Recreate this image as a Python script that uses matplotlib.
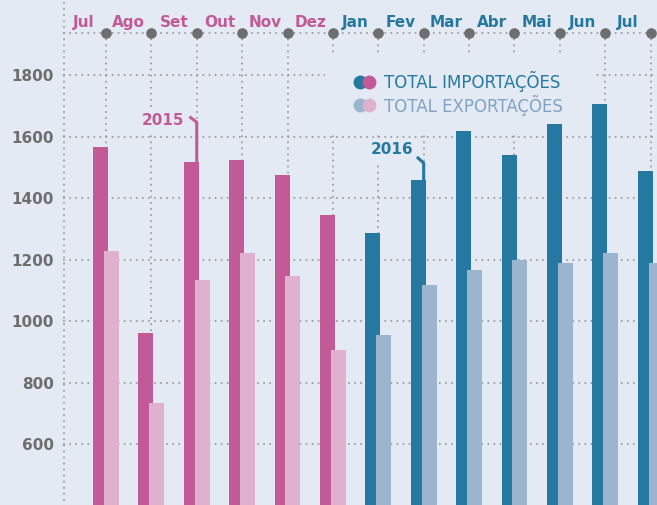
import matplotlib.pyplot as plt
import numpy as np
from matplotlib.patches import Rectangle

# valores (milhoes)
meses = ['Jul', 'Ago', 'Set', 'Out', 'Nov', 'Dez',
         'Jan', 'Fev', 'Mar', 'Abr', 'Mai', 'Jun', 'Jul']
importacoes = [1567, 963, 1519, 1525, 1476, 1346,
               1288, 1460, 1620, 1541, 1642, 1707, 1489]
exportacoes = [1229, 735, 1135, 1223, 1148, 907,
               956, 1119, 1167, 1200, 1190, 1223, 1190]
anos = ['2015'] * 6 + ['2016'] * 7
yticks = [600, 800, 1000, 1200, 1400, 1600, 1800]

bg = '#E3EAF3'
rosa = '#C25A98'
rosa_claro = '#E0B1CE'
azul = '#25789F'
azul_claro = '#9AB5CD'
cinza = '#9A9A9A'

x = np.arange(len(meses))
dark = [rosa if a == '2015' else azul for a in anos]
light = [rosa_claro if a == '2015' else azul_claro for a in anos]

fig = plt.figure(figsize=(6.57, 5.05), dpi=100)
fig.patch.set_facecolor(bg)
ax = fig.add_axes([62 / 657, 0, 1 - 62 / 657, 1])
ax.set_facecolor(bg)
ax.set_xlim(-0.969, 12.14)
ax.set_ylim(403, 2045.5)
top = 1938

dots = dict(linestyles=[(0, (0.01, 3.0))], colors=cinza, linewidths=1.45,
            capstyle='round', zorder=1)
ax.hlines(list(range(400, 2000, 200)) + [top], -0.925, 12.2, **dots)
ax.vlines(x, 380, top, **dots)
ax.vlines([-0.925], 380, 2100, **dots)

# caixa da legenda esconde a grelha
ax.add_patch(Rectangle((4.82, 1606), 5.91, 261, facecolor=bg,
                       edgecolor='none', zorder=1.5))

ax.bar(x - 0.12, importacoes, 0.33, color=dark, zorder=2)
ax.bar(x + 0.12, exportacoes, 0.33, color=light, zorder=3)

ax.scatter(x, [top] * len(x), s=44, color='#6E6E6E', zorder=4, clip_on=False)
for i, m in enumerate(meses):
    ax.text(i - 0.5, 1971, m, ha='center', va='center', fontsize=11,
            fontweight='bold', color=dark[i], zorder=4)

# legenda
ax.scatter([5.595], [1779], s=100, color=azul, zorder=5, linewidths=0)
ax.scatter([5.79], [1779], s=100, color=rosa, zorder=5, linewidths=0)
ax.scatter([5.595], [1704], s=100, color=azul_claro, zorder=5, linewidths=0)
ax.scatter([5.79], [1704], s=100, color=rosa_claro, zorder=5, linewidths=0)
ax.text(6.12, 1779, 'TOTAL IMPORTAÇÕES', ha='left', va='center',
        fontsize=12, color=azul, zorder=5)
ax.text(6.12, 1704, 'TOTAL EXPORTAÇÕES', ha='left', va='center',
        fontsize=12, color='#7FA3C3', zorder=5)

# anotacoes dos anos
def marca(xi, y0, y1, xh, yh, cor):
    ax.plot([xi, xi, xh], [y0, y1, yh], color=cor, linewidth=2.2,
            solid_joinstyle='round', solid_capstyle='butt', zorder=3)

ax.text(1.256, 1655, '2015', ha='center', va='center', fontsize=11,
        fontweight='bold', color=rosa, zorder=1.6,
        bbox=dict(boxstyle='square,pad=0.3', fc=bg, ec='none'))
marca(2, importacoes[2], 1648, 1.84, 1666, rosa)
ax.text(6.30, 1558, '2016', ha='center', va='center', fontsize=11,
        fontweight='bold', color=azul, zorder=1.6,
        bbox=dict(boxstyle='square,pad=0.3', fc=bg, ec='none'))
marca(7, importacoes[7], 1515, 6.85, 1535, azul)

ax.set_yticks(yticks)
ax.set_yticklabels([str(v) for v in yticks], fontsize=11, fontweight='bold',
                   color='#6E6E6E')
ax.set_xticks([])
ax.tick_params(axis='y', length=0, pad=6)
for s in ax.spines.values():
    s.set_visible(False)

fig.savefig('out.png', dpi=100, facecolor=bg)
